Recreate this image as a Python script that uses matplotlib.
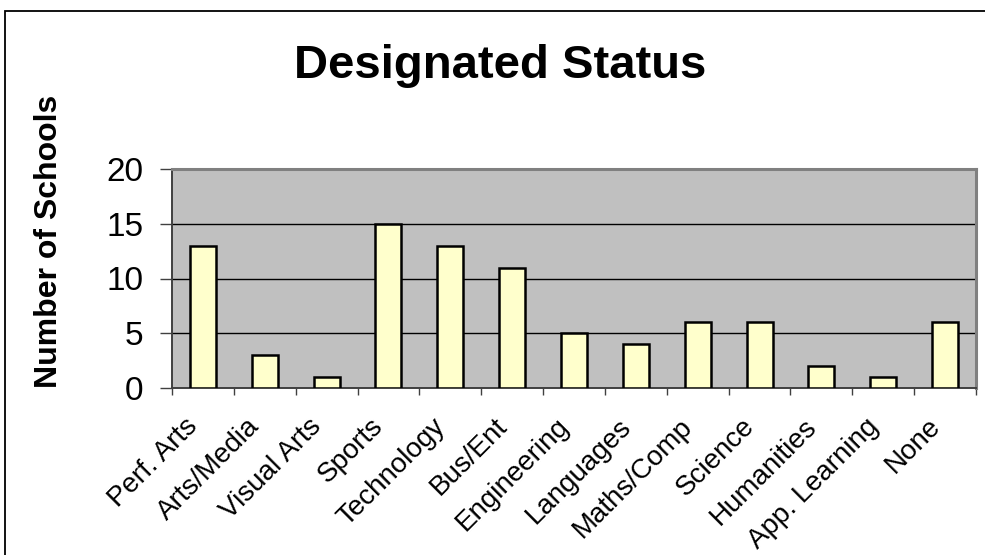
import matplotlib
matplotlib.use("Agg")
import matplotlib.pyplot as plt
import matplotlib.transforms as mtransforms
from matplotlib.patches import Rectangle
import numpy as np

plt.rcParams['font.family'] = ['Liberation Sans', 'DejaVu Sans']

categories = ["Perf. Arts", "Arts/Media", "Visual Arts", "Sports", "Technology",
              "Bus/Ent", "Engineering", "Languages", "Maths/Comp", "Science",
              "Humanities", "App. Learning", "None"]
schools = [13, 3, 1, 15, 13, 11, 5, 4, 6, 6, 2, 1, 6]
y_ticks = [0, 5, 10, 15, 20]

W, H = 985, 555
fig = plt.figure(figsize=(W / 100, H / 100), dpi=100)
fig.patch.set_facecolor('white')

# chart frame
fig.patches.append(Rectangle((4.5 / W, -0.05), 1.2, 1 - 10.5 / H + 0.05,
                             transform=fig.transFigure, fill=False,
                             edgecolor='black', linewidth=1.3))

ax = fig.add_axes([172 / W, 1 - 388 / H, (976 - 172) / W, (388 - 169) / H])
ax.set_facecolor('#C0C0C0')

x = np.arange(len(categories))
ax.bar(x, schools, width=0.42, color='#FFFFCC', edgecolor='black',
       linewidth=1.8, zorder=3)

ax.set_xlim(-0.5, len(categories) - 0.5)
ax.set_ylim(0, 20)
ax.set_yticks(y_ticks)
ax.set_yticklabels([str(v) for v in y_ticks], fontsize=24)
ax.yaxis.grid(True, color='black', linewidth=1.0)
ax.set_axisbelow(True)

# category labels centred on bars, tick marks on category boundaries
ax.set_xticks(x)
ax.set_xticklabels(categories, fontsize=20, rotation=45, ha='right',
                   va='center', rotation_mode='anchor')
ax.set_xticks(np.arange(len(categories) + 1) - 0.5, minor=True)
ax.tick_params(axis='x', which='major', length=0, pad=25)
ax.tick_params(axis='x', which='minor', length=5, width=1, color='#404040')
ax.tick_params(axis='y', length=8.5, width=1, color='#404040', pad=12)
offset = mtransforms.ScaledTranslation(-9 / 100, 0, fig.dpi_scale_trans)
for lbl in ax.get_xticklabels():
    lbl.set_transform(lbl.get_transform() + offset)

for side in ('left', 'bottom'):
    ax.spines[side].set_color('#404040')
    ax.spines[side].set_linewidth(1.4)
for side in ('top', 'right'):
    ax.spines[side].set_color('#808080')
    ax.spines[side].set_linewidth(2.2)

fig.text(500 / W, 1 - 78 / H, "Designated Status", fontsize=34,
         fontweight='bold', ha='center', va='baseline')
fig.text(49 / W, 1 - 241 / H, "Number of Schools", fontsize=23,
         fontweight='bold', ha='center', va='center', rotation=90)

fig.savefig("out.png", dpi=100)
